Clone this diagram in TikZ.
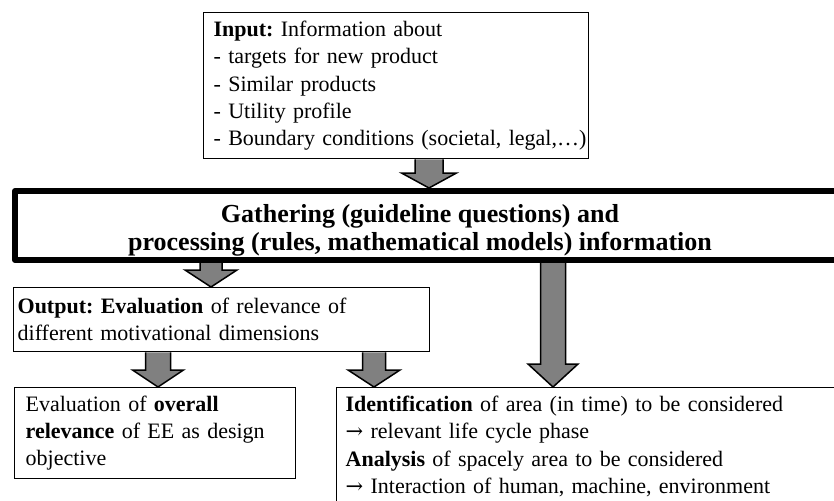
\documentclass[tikz,border=0pt]{standalone}
\usepackage{fontspec}
\setmainfont{Liberation Serif}
\newfontfamily\arrowfont{DejaVu Serif}
\newcommand\rarr{{\arrowfont\fontsize{21pt}{21pt}\selectfont →}}
\frenchspacing
\usetikzlibrary{calc}
\definecolor{arrowgray}{RGB}{128,128,128}
\tikzset{
  box/.style={draw=black, line width=1.3pt, fill=white, anchor=north west,
    inner ysep=0pt, align=left, font=\fontsize{22pt}{27.3pt}\selectfont},
  gbox/.style={draw=black, line width=6pt, line join=round, anchor=north west, inner sep=0pt},
  gtext/.style={align=center, inner sep=0pt, font=\fontsize{26pt}{28pt}\selectfont\bfseries},
  arrowfill/.style={fill=arrowgray},
  arrowline/.style={draw=black, line width=1.5pt, line join=miter},
}
% #1 source anchor, #2 target anchor, #3 x, #4 shaft half width, #5 head half width, #6 head length
\newcommand\barrow[6]{%
  \fill[arrowfill] let \p1=(#1), \p2=(#2) in
    ({#3-#4},\y1) -- ({#3-#4},{\y2+#6}) -- ({#3-#5},{\y2+#6}) -- (#3,\y2)
    -- ({#3+#5},{\y2+#6}) -- ({#3+#4},{\y2+#6}) -- ({#3+#4},\y1) -- cycle;
  \draw[arrowline] let \p1=(#1), \p2=(#2) in
    ({#3-#4},\y1) -- ({#3-#4},{\y2+#6}) -- ({#3-#5},{\y2+#6}) -- (#3,\y2)
    -- ({#3+#5},{\y2+#6}) -- ({#3+#4},{\y2+#6}) -- ({#3+#4},\y1);
}
\begin{document}
\begin{tikzpicture}[x=1pt,y=-1pt]
\useasboundingbox (0,0) rectangle (834,500);
\clip (0,0) rectangle (834,500);

\node[box, minimum height=146pt, text width=365pt, inner xsep=10pt] (in) at (203,12)
  {\textbf{Input:} Information about\\
   - targets for new product\\
   - Similar products\\
   - Utility profile\\
   \mbox{- Boundary conditions (societal, legal,…)}};

\node[gbox, minimum width=850pt, minimum height=69pt] (gath) at (12,188) {};
\node[gtext] (gt) at (420,230)
  {Gathering (guideline questions) and\\processing (rules, mathematical models) information};

\node[box, minimum height=64pt, text width=408pt, inner xsep=4pt] (out) at (13,287)
  {\textbf{Output: Evaluation} of relevance of\\
   different motivational dimensions};

\node[box, minimum height=91pt, text width=259pt, inner xsep=11pt] (eval) at (14,387)
  {Evaluation of \textbf{overall}\\
   \textbf{relevance} of EE as design\\
   objective};

\node[box, minimum height=117.4pt, text width=506pt, inner xsep=9pt] (ident) at (336,387)
  {\textbf{Identification} of area (in time) to be considered\\
   \rarr\ relevant life cycle phase\\
   \textbf{Analysis} of spacely area to be considered\\
   \rarr\ Interaction of human, machine, environment};

\barrow{in.south}{gath.north}{429pt}{14pt}{27.5pt}{15pt}
\barrow{gath.south}{out.north}{211pt}{11pt}{26pt}{17pt}
\barrow{out.south}{eval.north}{158pt}{12.5pt}{25.5pt}{17pt}
\barrow{out.south}{ident.north}{374pt}{11.5pt}{26pt}{17pt}
\barrow{gath.south}{ident.north}{553pt}{12.5pt}{25pt}{23pt}
\end{tikzpicture}
\end{document}
